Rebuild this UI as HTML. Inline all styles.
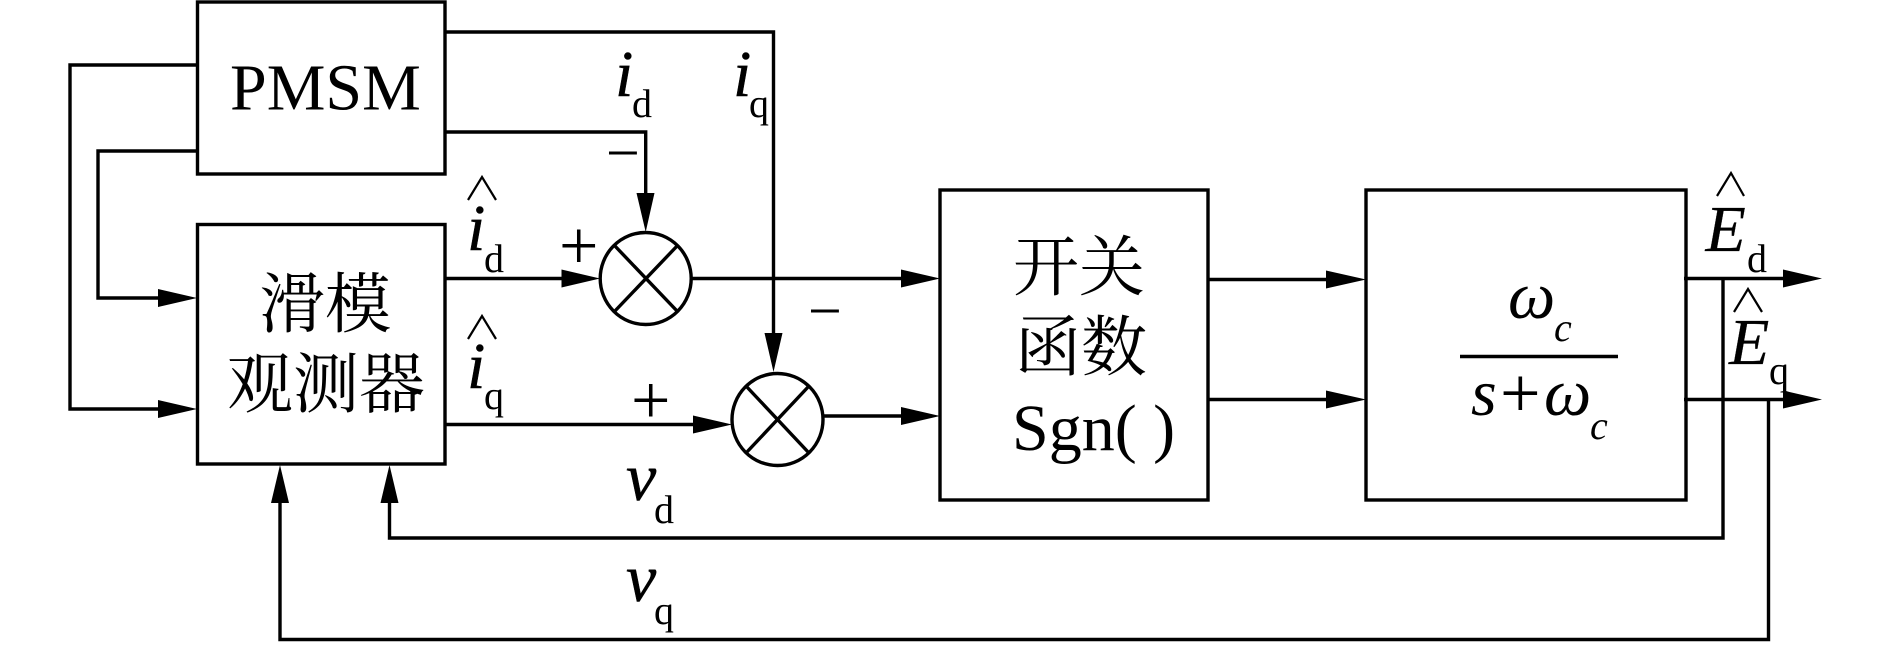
<!DOCTYPE html>
<html><head><meta charset="utf-8"><style>
html,body{margin:0;padding:0;background:#fff;width:1890px;height:645px;overflow:hidden}
svg{display:block}
text{font-family:"Liberation Serif","Noto Serif CJK SC",serif;fill:#000}
.i{font-style:italic;font-size:66px;stroke:#000;stroke-width:.5}
.s{font-size:40px}
.c{font-size:66px}
.l{fill:none;stroke:#000;stroke-width:3.4}
.t{fill:none;stroke:#000;stroke-width:2.2}
.a{fill:#000}
</style></head><body>
<svg width="1890" height="645" viewBox="0 0 1890 645" xmlns="http://www.w3.org/2000/svg">
<rect x="197.5" y="2" width="247.5" height="172" class="l"/>
<rect x="197.5" y="224.5" width="247.5" height="239.5" class="l"/>
<rect x="940" y="190" width="268" height="310" class="l"/>
<rect x="1366" y="190" width="320" height="310" class="l"/>

<polyline class="l" points="197,65 70,65 70,409 165,409"/>
<polyline class="l" points="197,151 98,151 98,298 165,298"/>
<polyline class="l" points="445,32 773.5,32 773.5,340"/>
<polyline class="l" points="445,132 645.7,132 645.7,200"/>
<line class="l" x1="445" y1="278.5" x2="570" y2="278.5"/>
<line class="l" x1="691" y1="278.5" x2="905" y2="278.5"/>
<line class="l" x1="445" y1="424.5" x2="700" y2="424.5"/>
<line class="l" x1="823" y1="416" x2="905" y2="416"/>
<line class="l" x1="1208" y1="279.5" x2="1330" y2="279.5"/>
<line class="l" x1="1208" y1="399.5" x2="1330" y2="399.5"/>
<line class="l" x1="1684" y1="278.5" x2="1790" y2="278.5"/>
<line class="l" x1="1684" y1="399.5" x2="1790" y2="399.5"/>
<polyline class="l" points="1723,278.5 1723,538 389.5,538 389.5,500"/>
<polyline class="l" points="1768.5,399.5 1768.5,639.5 280,639.5 280,500"/>

<polygon class="a" points="197,298 158,289 158,307"/>
<polygon class="a" points="197,409 158,400 158,418"/>
<polygon class="a" points="645.7,232 636.5,193 654.5,193"/>
<polygon class="a" points="773.5,372 764.5,333 782.5,333"/>
<polygon class="a" points="600,278.5 561.5,269.5 561.5,287.5"/>
<polygon class="a" points="732,424.5 693,415.5 693,433.5"/>
<polygon class="a" points="940,278.5 901,269.5 901,287.5"/>
<polygon class="a" points="940,416 901,407 901,425"/>
<polygon class="a" points="1366,279.5 1326,270.5 1326,288.5"/>
<polygon class="a" points="1366,399.5 1326,390.5 1326,408.5"/>
<polygon class="a" points="1822,278.5 1783,269.5 1783,287.5"/>
<polygon class="a" points="1822,399.5 1783,390.5 1783,408.5"/>
<polygon class="a" points="280,465 271,503 289,503"/>
<polygon class="a" points="389.5,465 380.5,503 398.5,503"/>

<ellipse class="l" cx="645.7" cy="278.5" rx="45.5" ry="46"/>
<line class="l" x1="614" y1="245" x2="678" y2="312"/>
<line class="l" x1="678" y1="245" x2="614" y2="312"/>
<ellipse class="l" cx="777.5" cy="419.5" rx="45.5" ry="46"/>
<line class="l" x1="746" y1="386" x2="809" y2="453"/>
<line class="l" x1="809" y1="386" x2="746" y2="453"/>

<text x="230" y="109.5" font-size="66">PMSM</text>
<text class="c" x="259" y="327">滑模</text>
<text class="c" x="227" y="407">观测器</text>
<text class="c" x="1013" y="290">开关</text>
<text class="c" x="1015" y="370">函数</text>
<text x="1012" y="450" font-size="66">Sgn( )</text>

<text class="i" x="615" y="96">i</text><text class="s" x="632" y="117">d</text>
<text class="i" x="733" y="96">i</text><text class="s" x="749" y="117">q</text>
<text class="i" x="467" y="250">i</text><text class="s" x="484" y="272">d</text>
<text class="i" x="467" y="388">i</text><text class="s" x="484" y="409">q</text>
<text class="i" x="626" y="500" style="font-size:68px">v</text><text class="s" x="654" y="523">d</text>
<text class="i" x="626" y="601" style="font-size:68px">v</text><text class="s" x="654" y="624">q</text>
<polyline class="t" points="468,200 482,177 496,200"/>
<polyline class="t" points="468,339 482,316 496,339"/>
<polyline class="t" points="1717,196 1731,173 1744,196"/>
<polyline class="t" points="1734,312 1748,289 1762,312"/>
<text class="i" x="1705.5" y="251" style="stroke-width:.2">E</text><text class="s" x="1747" y="272">d</text>
<text class="i" x="1729" y="364" style="stroke-width:.2">E</text><text class="s" x="1769" y="384">q</text>

<text x="1508" y="318" font-size="67" font-style="italic">ω</text>
<text x="1554" y="341" font-size="40" font-style="italic">c</text>
<line class="l" x1="1460" y1="356.5" x2="1618" y2="356.5"/>
<text x="1471" y="415" font-size="66" font-style="italic">s</text>
<text x="1500" y="417" font-size="72">+</text>
<text x="1544" y="415" font-size="67" font-style="italic">ω</text>
<text x="1590" y="439" font-size="40" font-style="italic">c</text>

<text x="559" y="269" font-size="70">+</text>
<text x="631" y="423.5" font-size="70">+</text>
<text x="606" y="173" font-size="60">−</text>
<text x="808" y="331" font-size="60">−</text>
</svg>
</body></html>
